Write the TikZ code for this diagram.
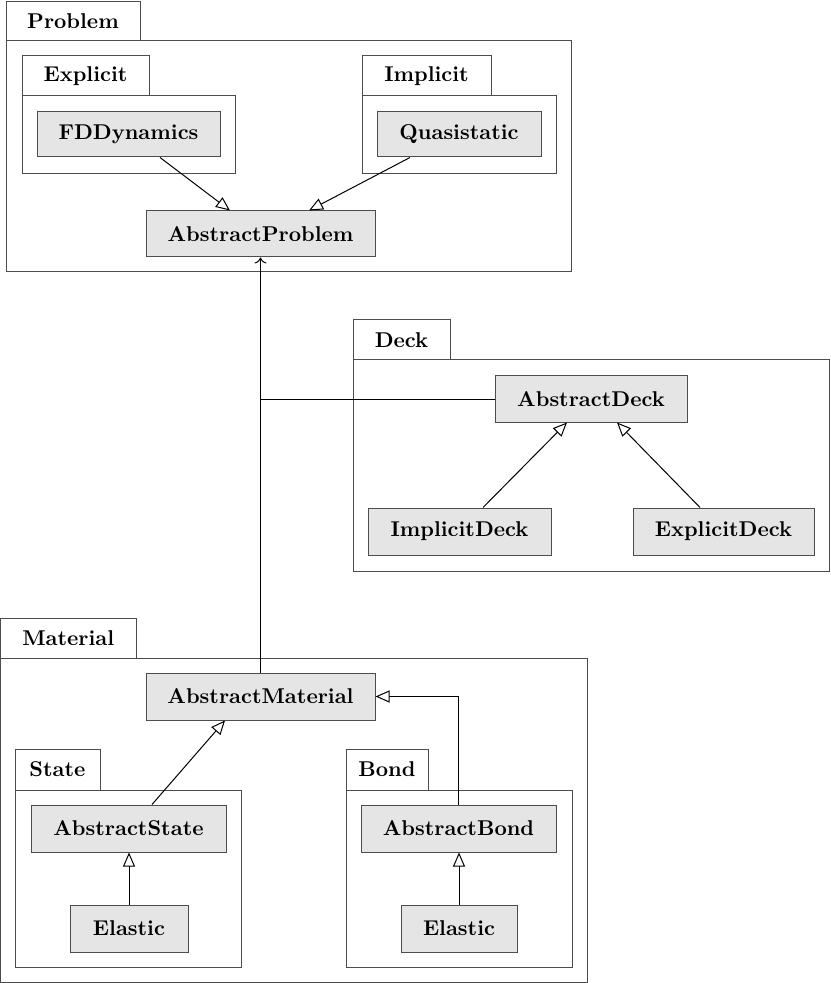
\documentclass[tikz,border=0pt]{standalone}
\usetikzlibrary{arrows.meta,calc}
\begin{document}
\begin{tikzpicture}[x=0.5pt,y=-0.5pt,
  cls/.style={draw=black!70,fill=black!10,line width=0.5pt,font=\fontsize{10.7}{13}\selectfont\bfseries,inner sep=0pt},
  tab/.style={draw=black!70,line width=0.5pt,font=\fontsize{10.7}{13}\selectfont\bfseries,inner sep=0pt},
  pkg/.style={draw=black!70,line width=0.5pt},
  inh/.style={draw=black,line width=0.5pt,-{Triangle[open,length=7pt,width=6pt]}},
  dep/.style={draw=black,line width=0.5pt,-{To[length=3pt,width=6pt]}},
  assoc/.style={draw=black,line width=0.5pt}]
\useasboundingbox (0,0) rectangle (830,983);
% packages
\draw[pkg] (6,41) rectangle (571,272);
\node[tab,minimum width=67pt,minimum height=19.5pt] (tprob) at (73,21.5) {Problem};
\draw[pkg] (22,96) rectangle (235,174);
\node[tab,minimum width=63.5pt,minimum height=20pt] (texp) at (85.5,76) {Explicit};
\draw[pkg] (362,96) rectangle (556,174);
\node[tab,minimum width=64.5pt,minimum height=20pt] (timp) at (426.5,76) {Implicit};
\draw[pkg] (353,360) rectangle (829.5,571);
\node[tab,minimum width=48.5pt,minimum height=20pt] (tdeck) at (401.5,340) {Deck};
\draw[pkg] (0.5,658) rectangle (587,982);
\node[tab,minimum width=67.75pt,minimum height=20pt] (tmat) at (68.25,638) {Material};
\draw[pkg] (15,790) rectangle (241,967);
\node[tab,minimum width=42.5pt,minimum height=20.5pt] (tstate) at (57.5,769.5) {State};
\draw[pkg] (346,790) rectangle (572,967);
\node[tab,minimum width=41pt,minimum height=20.5pt] (tbond) at (387,769.5) {Bond};
% classes
\node[cls,minimum width=91.5pt,minimum height=22.5pt] (fd) at (128.5,134.5) {FDDynamics};
\node[cls,minimum width=82pt,minimum height=22.5pt] (qs) at (459,134.5) {Quasistatic};
\node[cls,minimum width=114.5pt,minimum height=23pt] (ap) at (260.5,234) {AbstractProblem};
\node[cls,minimum width=96pt,minimum height=23pt] (ad) at (591,399) {AbstractDeck};
\node[cls,minimum width=91.5pt,minimum height=23.5pt] (id) at (459.5,531.5) {ImplicitDeck};
\node[cls,minimum width=90.5pt,minimum height=23.5pt] (ed) at (723.5,531.5) {ExplicitDeck};
\node[cls,minimum width=114.5pt,minimum height=23.5pt] (am) at (260.5,696.5) {AbstractMaterial};
\node[cls,minimum width=97.5pt,minimum height=23.5pt] (as) at (128.5,828.5) {AbstractState};
\node[cls,minimum width=59pt,minimum height=23.5pt] (es) at (129,928.5) {Elastic};
\node[cls,minimum width=97.5pt,minimum height=23.5pt] (ab) at (458.5,828.5) {AbstractBond};
\node[cls,minimum width=58pt,minimum height=23.5pt] (eb) at (459,928.5) {Elastic};
% connectors
\draw[inh] ($(fd.south)+(31.5,0)$) -- ($(ap.north)+(-30.5,0)$);
\draw[inh] ($(qs.south)+(-49,0)$) -- ($(ap.north)+(48.5,0)$);
\draw[dep] (am.north) -- (ap.south);
\draw[assoc] (ad.west) -- (ad.west -| am.north);
\draw[inh] ($(id.north)+(23.5,0)$) -- ($(ad.south)+(-24,0)$);
\draw[inh] ($(ed.north)+(-23.5,0)$) -- ($(ad.south)+(26,0)$);
\draw[inh] ($(as.north)+(23.5,0)$) -- ($(am.south)+(-35.5,0)$);
\draw[inh] (ab.north) |- (am.east);
\draw[inh] (es.north) -- (es.north |- as.south);
\draw[inh] (eb.north) -- (eb.north |- ab.south);
\end{tikzpicture}
\end{document}
